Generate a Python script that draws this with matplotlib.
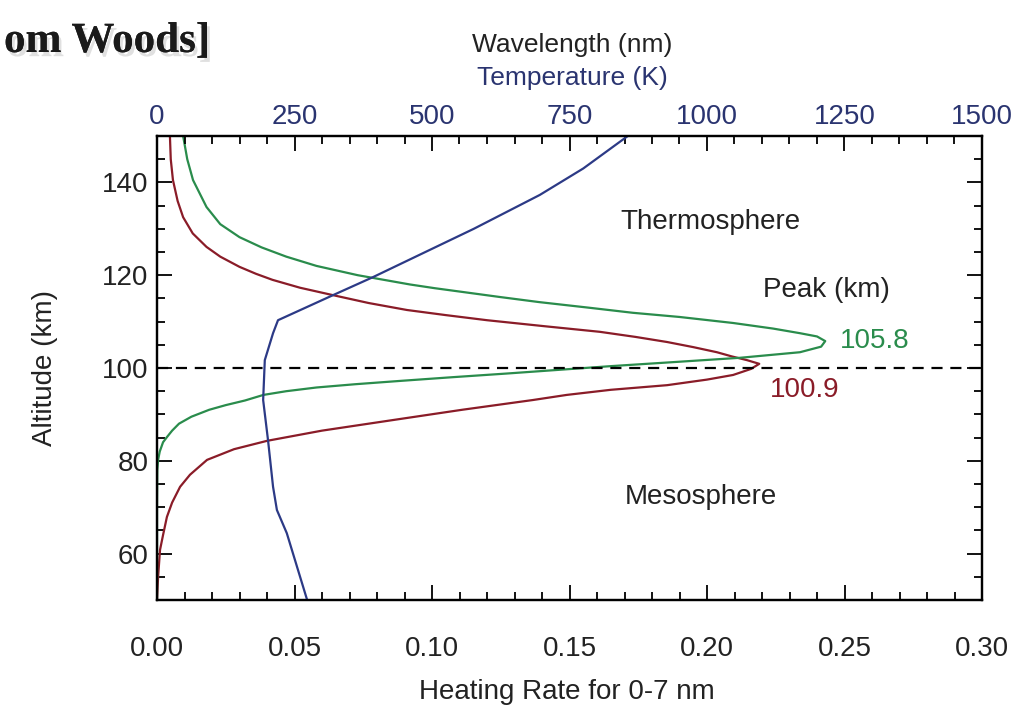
import matplotlib
matplotlib.use("Agg")
import matplotlib.pyplot as plt
from matplotlib.ticker import MultipleLocator
import matplotlib.patheffects as pe

plt.rcParams['font.family'] = ['Liberation Sans', 'DejaVu Sans']

# ---- data ----
alt_red = [50, 55, 60.8, 64, 67.9, 71, 74.4, 77, 80.2, 82.5, 84.3, 86.5, 88.8, 91,
           93.1, 94.2, 95.3, 96.3, 97.5, 98.5, 99.8, 100.9, 101.7, 102.5, 103.4,
           104.5, 105.6, 106.7, 107.8, 109, 110.3, 111.4, 112.5, 114, 115.7, 117.3,
           119.0, 120.3, 121.8, 124, 126.1, 129, 132.5, 136, 140.5, 145, 150]
heat_red = [0.000, 0.0004, 0.0011, 0.0022, 0.0036, 0.0055, 0.0084, 0.012, 0.0182,
            0.028, 0.040, 0.060, 0.086, 0.111, 0.1367, 0.149, 0.165, 0.1855, 0.200,
            0.2095, 0.216, 0.219, 0.2145, 0.209, 0.2036, 0.195, 0.1855, 0.174, 0.161,
            0.141, 0.120, 0.105, 0.0909, 0.077, 0.064, 0.052, 0.042, 0.036, 0.030,
            0.023, 0.018, 0.013, 0.0095, 0.0075, 0.0058, 0.005, 0.0047]

alt_green = [50, 60, 70, 78, 80.2, 82, 84, 85.1, 86.5, 88, 89.5, 91, 92, 93, 94.2,
             95, 95.8, 96.5, 97.2, 98, 98.8, 99.6, 100.4, 101.2, 102.2, 103.4,
             104.6, 105.8, 106.8, 107.5, 108.5, 109.7, 111, 111.9, 113, 114.2, 115.3,
             117.2, 118, 120, 122, 124, 126, 128.2, 131, 134.7, 140.5, 145, 150]
heat_green = [0.0, 0.0, 0.0, 0.0001, 0.0004, 0.0010, 0.0022, 0.0036, 0.0055, 0.0080,
              0.0125, 0.019, 0.025, 0.032, 0.0387, 0.047, 0.058, 0.072, 0.088,
              0.107, 0.127, 0.146, 0.165, 0.186, 0.212, 0.2338, 0.2415, 0.243,
              0.240, 0.2338, 0.224, 0.2095, 0.19, 0.173, 0.157, 0.139, 0.1247,
              0.101, 0.092, 0.073, 0.058, 0.047, 0.038, 0.030, 0.023, 0.018, 0.0131,
              0.011, 0.0095]

alt_temp = [50, 64.4, 69.4, 74.4, 84.3, 93.1, 101.7, 107.5, 110.3, 115.7, 119.6,
            125, 130, 137.3, 143, 150]
temp_K = [273, 236, 218, 211, 202, 193, 196, 211, 220, 320, 393, 488, 576, 696, 775, 856]

peak_labels = ["105.8", "100.9"]
region_labels = ["Thermosphere", "Peak (km)", "Mesosphere"]

RED = '#8a1c28'
GREEN = '#2a8c4c'
BLUE = '#2c3a86'
NAVY = '#2a3470'
FS = 20

fig = plt.figure(figsize=(10.24, 7.21), dpi=100)
ax = fig.add_axes([157/1024, 1-600/721, 825/1024, 464/721])

ax.plot(heat_red, alt_red, color=RED, lw=1.6)
ax.plot(heat_green, alt_green, color=GREEN, lw=1.6)
ax.axhline(100, color='black', lw=1.6, ls=(0, (5, 3.5)))

ax.set_xlim(0, 0.30)
ax.set_ylim(50, 150)
ax.xaxis.set_major_locator(MultipleLocator(0.05))
ax.xaxis.set_minor_locator(MultipleLocator(0.01))
ax.yaxis.set_major_locator(MultipleLocator(20))
ax.yaxis.set_minor_locator(MultipleLocator(5))
ax.set_xticks([0, 0.05, 0.10, 0.15, 0.20, 0.25, 0.30])
ax.set_xticklabels(["0.00", "0.05", "0.10", "0.15", "0.20", "0.25", "0.30"])
ax.tick_params(axis='both', which='both', direction='in', width=1.3,
               labelsize=FS, labelcolor='#222222')
ax.tick_params(axis='x', which='both', bottom=True, top=False, pad=26)
ax.tick_params(axis='y', which='both', left=True, right=True, pad=6)
ax.tick_params(which='major', length=11)
ax.tick_params(which='minor', length=6)
for s in ax.spines.values():
    s.set_linewidth(1.6)

ax.set_xlabel("Heating Rate for 0-7 nm", fontsize=FS, color='#222222')
ax.xaxis.set_label_coords(0.497, -0.198)
ax.xaxis.label.set_va('center')
ax.set_ylabel("Altitude (km)", fontsize=FS, color='#222222')
ax.yaxis.set_label_coords(-0.136, 0.5)
ax.yaxis.label.set_va('center')

ax2 = ax.twiny()
ax2.plot(temp_K, alt_temp, color=BLUE, lw=1.6)
ax2.set_xlim(0, 1500)
ax2.set_ylim(50, 150)
ax2.xaxis.set_major_locator(MultipleLocator(250))
ax2.xaxis.set_minor_locator(MultipleLocator(50))
ax2.tick_params(axis='x', which='both', direction='in', width=1.3,
                labelsize=FS, labelcolor=NAVY, pad=4)
ax2.tick_params(which='major', length=11)
ax2.tick_params(which='minor', length=6)
for s in ax2.spines.values():
    s.set_linewidth(1.6)

ax.text(0.503, 1.196, "Wavelength (nm)", transform=ax.transAxes, ha='center',
        va='center', fontsize=FS - 1, color='#222222')
ax.text(0.503, 1.125, "Temperature (K)", transform=ax.transAxes, ha='center',
        va='center', fontsize=FS - 1, color=NAVY)

ax.text(0.1684, 131.5, region_labels[0], fontsize=FS, color='#222222', va='center')
ax.text(0.2204, 116.8, region_labels[1], fontsize=FS, color='#222222', va='center')
ax.text(0.1702, 72.2, region_labels[2], fontsize=FS, color='#222222', va='center')
ax.text(0.2484, 105.8, peak_labels[0], fontsize=FS, color=GREEN, va='center')
ax.text(0.2229, 95.3, peak_labels[1], fontsize=FS, color=RED, va='center')

fig.text(4/1024, 1-42/721, "om Woods]", family=['Liberation Serif', 'DejaVu Serif'],
         fontweight='bold', fontsize=31, color='#1a1a1a', va='center', ha='left',
         path_effects=[pe.withSimplePatchShadow(offset=(2, -3), shadow_rgbFace='#999999', alpha=0.3),
                       pe.Normal()])

fig.savefig("out.png", dpi=100)
